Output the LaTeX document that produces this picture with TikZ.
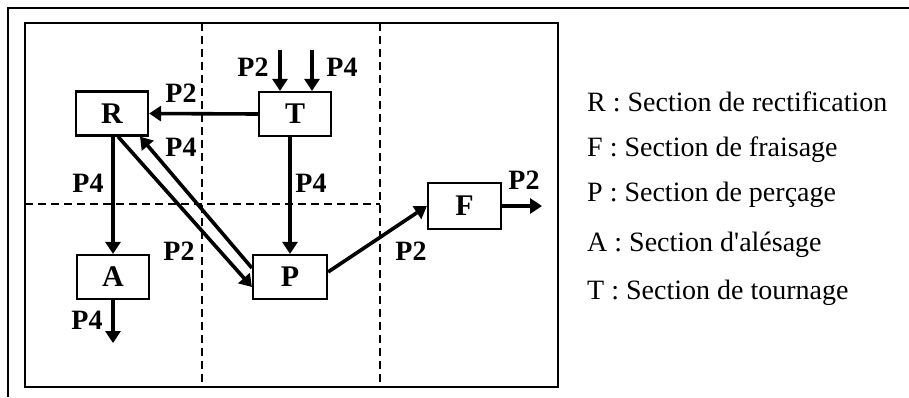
\documentclass[tikz,border=0pt]{standalone}
\usepackage{fontspec}
\setmainfont{Liberation Serif}
\usetikzlibrary{arrows.meta,calc}
\begin{document}
\begin{tikzpicture}[x=1pt,y=-1pt,
  box/.style={draw,line width=2.2pt,minimum width=72pt,minimum height=44pt,inner sep=0pt,font=\fontsize{30}{30}\selectfont\bfseries},
  lab/.style={font=\fontsize{28}{28}\selectfont\bfseries,inner sep=0pt},
  arr/.style={line width=3.6pt,-{Triangle[length=12pt,width=15pt]}},
  leg/.style={anchor=west,font=\fontsize{28}{28}\selectfont,inner sep=0pt},
  sep/.style={line width=1.6pt,dash pattern=on 8pt off 5pt},
  frame/.style={line width=2.4pt}]
\useasboundingbox (0,0) rectangle (909,397);
% frames
\draw[frame] (8,397) -- (8,8) -- (909,8);
\draw[frame] (25,23) rectangle (558,387);
% separators
\draw[sep] (202,23) -- (202,387);
\draw[sep] (380,23) -- (380,387);
\draw[sep] (25,204) -- (380,204);
% boxes
\node[box] (R) at (112,113.5) {R};
\node[box] (T) at (295,114) {T};
\node[box] (A) at (113,277) {A};
\node[box,minimum width=74pt] (P) at (290,277) {P};
\node[box,minimum width=73pt,minimum height=46pt] (F) at (464.5,206) {F};
% free ends
\coordinate (t2) at (280,50);
\coordinate (t4) at (312,50);
\coordinate (aout) at (113,343);
\coordinate (fout) at (542,206);
% connectors
\draw[arr] (T.west) -- (R.east);
\draw[arr] (t2) -- (t2 |- T.north);
\draw[arr] (t4) -- (t4 |- T.north);
\draw[arr] (T.south -| P.north) -- (P.north);
\draw[arr] (R.south -| A.north) -- (A.north);
\draw[arr] (A.south) -- (aout);
\draw[arr] ([xshift=6pt]R.south) -- ([yshift=-10pt]P.west);
\draw[arr] ([yshift=9pt]P.west) -- ([xshift=28pt]R.south);
\draw[arr] ([yshift=5pt]P.east) -- (F.west);
\draw[arr] (F.east) -- (fout);
% labels
\node[lab] (l1) at (181,93) {P2};
\node[lab] (l2) at (181,147) {P4};
\node[lab] (l3) at (88,183) {P4};
\node[lab] (l4) at (311,183) {P4};
\node[lab] (l5) at (253,67) {P2};
\node[lab] (l6) at (342,67) {P4};
\node[lab] (l7) at (179,251) {P2};
\node[lab] (l8) at (87,320) {P4};
\node[lab] (l9) at (411,251) {P2};
\node[lab] (l10) at (524,180) {P2};
% legend
\node[leg] (g1) at (587,102) {R : Section de rectification};
\node[leg] (g2) at (587,150) {F : Section de fraisage};
\node[leg] (g3) at (587,195) {P : Section de perçage};
\node[leg] (g4) at (587,245) {A : Section d\textquotesingle alésage};
\node[leg] (g5) at (587,293) {T : Section de tournage};
\end{tikzpicture}
\end{document}
